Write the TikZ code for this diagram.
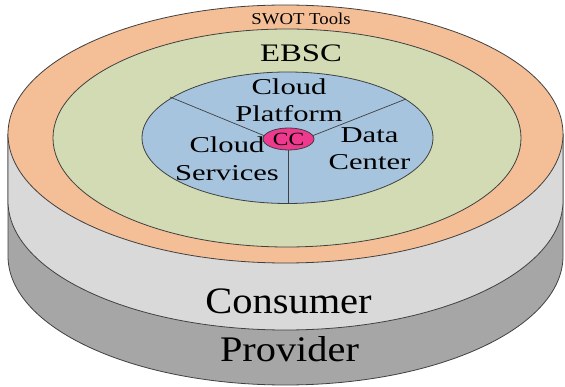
\documentclass[tikz,border=0pt]{standalone}
\usepackage{graphicx}
\usepackage{fontspec}
\usetikzlibrary{shapes.geometric}
\setmainfont{Liberation Serif}
\newcommand{\hs}[2]{\scalebox{#1}[1]{#2}}
\definecolor{orng}{HTML}{F4BF96}
\definecolor{grn}{HTML}{D3DBB5}
\definecolor{blu}{HTML}{A6C4DE}
\definecolor{mag}{HTML}{EE3A8E}
\definecolor{lgray}{HTML}{D9D9D9}
\definecolor{dgray}{HTML}{A6A6A6}
\definecolor{outl}{HTML}{404040}
\begin{document}
\begin{tikzpicture}[x=1pt,y=1pt,
  ring/.style={draw=outl,line width=0.8pt},
  spoke/.style={draw=outl,line width=0.7pt},
  lbl/.style={anchor=base,inner sep=0pt,align=center}]
\useasboundingbox (0,0) rectangle (565,-387);
% provider layer
\filldraw[ring,fill=dgray] (8,-134) -- (8,-256)
  arc[start angle=180,end angle=360,x radius=277.5,y radius=129] -- (563,-134) -- cycle;
% consumer layer
\filldraw[ring,fill=lgray] (8,-134) -- (8,-201)
  arc[start angle=180,end angle=360,x radius=277.5,y radius=129] -- (563,-134) -- cycle;
% top face rings
\filldraw[ring,fill=orng] (285.5,-134) ellipse[x radius=277.5,y radius=129];
\filldraw[ring,fill=grn] (287,-138) ellipse[x radius=234,y radius=109];
\filldraw[ring,fill=blu] (287.5,-137.75) ellipse[x radius=145.5,y radius=65.75];
% centre
\node[ring,ellipse,fill=mag,minimum width=51pt,minimum height=22pt,inner sep=0pt,
  font={\fontsize{18.6}{20}\selectfont}]
  (cc) at (288.5,-139) {\hs{1.26}{CC}};
\coordinate (spL) at (170,-97);
\coordinate (spR) at (406,-99);
\coordinate (spB) at (288.5,-203.5);
\draw[spoke] (spL) -- (cc.172);
\draw[spoke] (spR) -- (cc.8);
\draw[spoke] (cc.south) -- (spB);
% labels
\node[lbl,font={\fontsize{16.6}{20}\selectfont}] (swot) at (301,-25) {\hs{1.13}{SWOT Tools}};
\node[lbl,font={\fontsize{25.2}{30}\selectfont}] (ebsc) at (301,-61.7) {\hs{1.3}{EBSC}};
\node[lbl,font={\fontsize{22.7}{27.3}\selectfont}] (platform) at (289,-121.7)
  {\hs{1.35}{Cloud}\\\hs{1.35}{Platform}};
\node[lbl,font={\fontsize{22.7}{27}\selectfont}] (data) at (369.5,-170)
  {\hs{1.35}{Data}\\\hs{1.35}{Center}};
\node[lbl,font={\fontsize{22.7}{28.5}\selectfont}] (services) at (227,-180.7)
  {\hs{1.35}{Cloud}\\\hs{1.35}{Services}};
\node[lbl,font={\fontsize{37.3}{40}\selectfont}] (consumer) at (288.5,-314) {\hs{1.085}{Consumer}};
\node[lbl,font={\fontsize{36}{40}\selectfont}] (provider) at (289.5,-361) {\hs{1.12}{Provider}};
\end{tikzpicture}
\end{document}
